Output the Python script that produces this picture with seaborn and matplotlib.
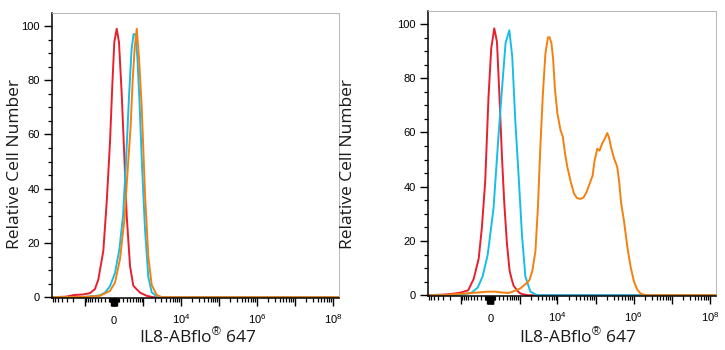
import matplotlib
matplotlib.use("Agg")
import matplotlib.pyplot as plt
import matplotlib.ticker as mticker
import seaborn as sns

# Fluorescence intensity (x) and relative cell number (y) per histogram
# Panel 1
p1_red_x = [-7400, -3150, -1933, -1100, -697, -493, -380, -240, -158, -85, -36, 6, 57, 106,
            167, 230, 293, 390, 503, 795, 1230, 1820, 1.45e8]
p1_red_y = [0, 0.2, 0.8, 1.0, 1.5, 3, 6.5, 17, 35, 57, 78, 94, 99, 94,
            75, 52, 30, 11.5, 4.2, 1.7, 0.5, 0, 0]

p1_cyan_x = [-7400, -1036, -697, -329, -198, -85, 21, 113, 198, 274, 359, 438, 511, 587,
             673, 773, 894, 1104, 1359, 1680, 2284, 3150, 1.45e8]
p1_cyan_y = [0, 0.1, 0.3, 0.7, 1.7, 4, 9, 17.5, 30, 50, 74, 91, 97, 97,
             88, 72, 51, 25, 7.5, 1.8, 0.3, 0, 0]

p1_orange_x = [-7400, -1036, -329, -85, 21, 128, 235, 315, 405, 480, 556, 641, 749, 894,
               1104, 1359, 1680, 2284, 3150, 1.45e8]
p1_orange_y = [0, 0.1, 0.5, 2.3, 5.4, 14, 29, 46, 62, 80, 92, 99, 88, 70,
               38, 15, 4.5, 0.8, 0, 0]

# Panel 2
p2_red_x = [-7400, -3150, -1933, -1036, -607, -405, -260, -181, -106, -36, 21, 85, 144, 198,
            266, 329, 411, 503, 596, 666, 835, 1036, 1577, 1.45e8]
p2_red_y = [0, 0.2, 0.4, 0.9, 1.8, 6, 13.5, 25, 42, 73, 91, 98.4, 93.5, 75,
            51, 34, 19, 9, 5.5, 3.5, 1.8, 0.6, 0, 0]

p2_cyan_x = [-7400, -1418, -835, -493, -287, -162, -52, 69, 181, 266, 368, 493, 607, 749,
             928, 1153, 1418, 1933, 2915, 1.45e8]
p2_cyan_y = [0, 0, 0.4, 0.8, 2.8, 7, 15, 32, 59, 76, 93, 97.7, 88, 64,
             44, 22, 7, 1.3, 0, 0]

p2_orange_x = [-7400, -2627, -1708, -749, -274, -63, 106, 274, 456, 697, 1036, 1418, 1820,
               2187, 2627, 3060, 3564, 4140, 4830, 5620, 6160, 6960, 7710, 8600, 10000,
               12000, 13800, 15770, 18350, 22670, 27200, 32600, 40320, 48400, 58000, 69600,
               83400, 94200, 111000, 127500, 150200, 172700, 203500, 227000, 256200, 303600,
               368500, 416000, 469600, 556500, 684000, 832500, 1020000, 1253000, 1525000,
               2064000, 1.45e8]
p2_orange_y = [0, 0, 0.3, 0.6, 1.0, 1.3, 1.3, 1.0, 0.8, 1.5, 2.5, 4, 5.5,
               9, 16, 32, 55, 74, 89, 95, 95.2, 93, 87, 76, 67,
               61, 58.5, 52.5, 47, 41.5, 37.5, 35.8, 35.5, 36, 38, 41,
               44, 49.5, 54, 53.3, 56, 57.5, 59.8, 58, 54.5, 50.6,
               47.5, 42, 34, 27.5, 17.8, 10.5, 5, 2, 0.6,
               0, 0]

x_labels = {0: "0", 1e4: "10$^{4}$", 1e6: "10$^{6}$", 1e8: "10$^{8}$"}
y_ticks = [0, 20, 40, 60, 80, 100]
x_title = "IL8-ABflo$^{®}$ 647"
y_title = "Relative Cell Number"

RED = "#e8202e"
CYAN = "#17bde8"
ORANGE = "#f5800f"

sns.set_style("ticks")
plt.rcParams["font.family"] = ["Liberation Sans", "DejaVu Sans"]
plt.rcParams["mathtext.fontset"] = "custom"
plt.rcParams["mathtext.rm"] = "Liberation Sans"
plt.rcParams["mathtext.it"] = "Liberation Sans"

fig = plt.figure(figsize=(7.25, 3.5), dpi=100)
ax1 = fig.add_axes([52 / 725, 52 / 350, 287 / 725, 285 / 350])
ax2 = fig.add_axes([428 / 725, 54 / 350, 288 / 725, 285 / 350])

panels = [
    (ax1, [(p1_red_x, p1_red_y, RED), (p1_cyan_x, p1_cyan_y, CYAN), (p1_orange_x, p1_orange_y, ORANGE)],
     (-0.129, 0.47), (0.509, -0.137)),
    (ax2, [(p2_red_x, p2_red_y, RED), (p2_cyan_x, p2_cyan_y, CYAN), (p2_orange_x, p2_orange_y, ORANGE)],
     (-0.278, 0.463), (0.519, -0.144)),
]

# biexponential-like display axis
major_x = [-1000] + [-v for v in range(10, 70, 10)] + [0] + list(range(10, 70, 10)) + \
          [1e3, 1e4, 1e5, 1e6, 1e7, 1e8]
minor_x = []
for k in range(2, 10):
    minor_x.append(-k * 1000)
    for e in range(2, 8):
        minor_x.append(k * 10 ** e)
    minor_x.append(-k * 100)
minor_x += [100, -100, 70, 80, 90, -70, -80, -90]


def fmt(v, pos):
    for key, lab in x_labels.items():
        if abs(v - key) < 1e-6 * max(1, abs(key)):
            return lab
    return ""


for ax, curves, ylab_pos, xlab_pos in panels:
    for cx, cy, col in curves:
        sns.lineplot(x=cx, y=cy, ax=ax, color=col, linewidth=1.4, sort=False, estimator=None)
    ax.set_xscale("asinh", linear_width=345)
    ax.set_xlim(-7400, 1.45e8)
    ax.set_ylim(-0.3, 104.8)
    ax.xaxis.set_major_locator(mticker.FixedLocator(major_x))
    ax.xaxis.set_minor_locator(mticker.FixedLocator(minor_x))
    ax.xaxis.set_major_formatter(mticker.FuncFormatter(fmt))
    ax.xaxis.set_minor_formatter(mticker.NullFormatter())
    ax.yaxis.set_major_locator(mticker.FixedLocator(y_ticks))
    ax.yaxis.set_minor_locator(mticker.MultipleLocator(5))
    ax.tick_params(axis="both", which="major", direction="out", length=5.5, width=1.0,
                   labelsize=8, color="black", labelcolor="black")
    ax.tick_params(axis="both", which="minor", direction="out", length=3, width=0.9,
                   color="black")
    ax.tick_params(axis="x", which="major", pad=13)
    ax.tick_params(axis="y", which="major", pad=3.5)
    for t in ax.get_xticklabels():
        t.set_verticalalignment("baseline")
    for side in ("left", "bottom"):
        ax.spines[side].set_color("black")
        ax.spines[side].set_linewidth(1.1)
    for side in ("top", "right"):
        ax.spines[side].set_color("#b5b5b5")
        ax.spines[side].set_linewidth(0.7)
    ax.set_ylabel(y_title, fontsize=12.5, family=["Open Sans", "DejaVu Sans"], va="center",
                  color="#1a1a1a")
    ax.yaxis.set_label_coords(*ylab_pos)
    ax.set_xlabel(x_title, fontsize=12.5, family=["Open Sans", "DejaVu Sans"], va="center",
                  color="#1a1a1a")
    ax.xaxis.set_label_coords(*xlab_pos)

fig.savefig("out.png", dpi=100, facecolor="white")
